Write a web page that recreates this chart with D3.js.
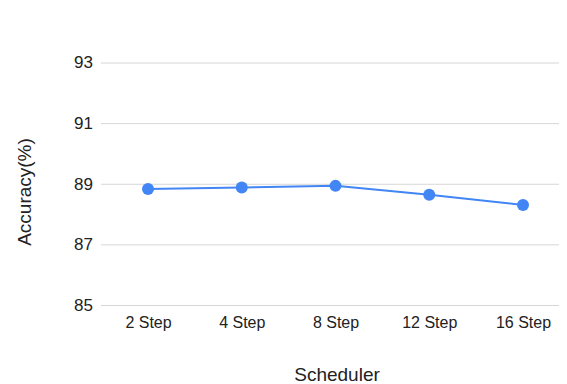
<!DOCTYPE html>
<html>
<head>
<meta charset="utf-8">
<script src="https://cdn.jsdelivr.net/npm/d3@7"></script>
<style>
  html, body { margin: 0; padding: 0; background: #fff; }
  svg { display: block; font-family: Arial, "Liberation Sans", sans-serif; }
</style>
</head>
<body>
<svg id="chart" width="567" height="384"></svg>
<script>
// Accuracy by scheduler step count
const categories = ["2 Step", "4 Step", "8 Step", "12 Step", "16 Step"];
const accuracy = [88.83, 88.88, 88.93, 88.64, 88.30];
const yTicks = [85, 87, 89, 91, 93];

const svg = d3.select("#chart");
const width = 567, height = 384;
const plot = { left: 101, right: 559, top: 62.5, bottom: 305 };

const x = d3.scalePoint()
  .domain(categories)
  .range([148, 523]);

const y = d3.scaleLinear()
  .domain([85, 93])
  .range([plot.bottom, plot.top]);

// horizontal gridlines with value labels
const yAxis = d3.axisLeft(y)
  .tickValues(yTicks)
  .tickFormat(d3.format("d"))
  .tickSize(-(plot.right - plot.left))
  .tickPadding(8);

const gy = svg.append("g")
  .attr("transform", `translate(${plot.left},0)`)
  .call(yAxis);
gy.select(".domain").remove();
gy.selectAll(".tick line").attr("stroke", "#d6d6d6").attr("stroke-width", 1);
gy.selectAll(".tick text")
  .attr("fill", "#222")
  .attr("font-size", 17)
  .attr("x", -8);

// category labels under the plot
const xAxis = d3.axisBottom(x).tickSize(0).tickPadding(12);
const gx = svg.append("g")
  .attr("transform", `translate(0,${plot.bottom})`)
  .call(xAxis);
gx.select(".domain").remove();
gx.selectAll(".tick text").attr("fill", "#222").attr("font-size", 16);

// series line
const line = d3.line()
  .x((d, i) => x(categories[i]))
  .y(d => y(d));

svg.append("path")
  .datum(accuracy)
  .attr("fill", "none")
  .attr("stroke", "#4285f4")
  .attr("stroke-width", 2)
  .attr("d", line);

svg.append("g")
  .selectAll("circle")
  .data(accuracy)
  .join("circle")
  .attr("cx", (d, i) => x(categories[i]))
  .attr("cy", d => y(d))
  .attr("r", 6)
  .attr("fill", "#4285f4");

// axis titles
svg.append("text")
  .attr("x", 337)
  .attr("y", 381)
  .attr("text-anchor", "middle")
  .attr("font-size", 19)
  .attr("fill", "#222")
  .text("Scheduler");

svg.append("text")
  .attr("transform", "translate(31,192) rotate(-90)")
  .attr("text-anchor", "middle")
  .attr("font-size", 19)
  .attr("fill", "#222")
  .text("Accuracy(%)");
</script>
</body>
</html>
